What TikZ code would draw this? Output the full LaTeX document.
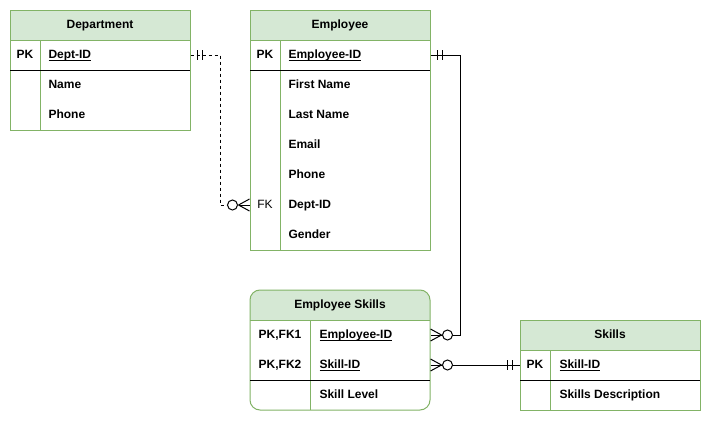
\documentclass[tikz,border=0pt]{standalone}
\usepackage{fontspec}
\setmainfont{Liberation Sans}
\usetikzlibrary{calc}
\definecolor{hdr}{HTML}{D5E8D4}
\definecolor{bdr}{HTML}{82B366}
\newcommand{\myul}[1]{\setbox0\hbox{#1}\rlap{\rule[-1.4pt]{\wd0}{0.6pt}}\box0}
\begin{document}
\begin{tikzpicture}[x=0.75pt,y=-0.75pt,
  font=\fontsize{9}{11}\selectfont\bfseries,
  line width=0.75pt,
  rowbox/.style={minimum width=135pt, minimum height=22.5pt, inner sep=0pt, draw=none},
  keytxt/.style={inner sep=0pt, anchor=center, text height=7.6pt, text depth=1.9pt},
  fieldtxt/.style={inner sep=0pt, anchor=west, text height=7.6pt, text depth=1.9pt},
  hdrtxt/.style={inner sep=0pt, anchor=center, text height=7.6pt, text depth=1.9pt},
  tbl/.style={draw=bdr, line width=0.75pt},
  sep/.style={draw=black, line width=0.75pt},
  rel/.style={draw=black, line width=0.75pt},
  reldash/.style={draw=black, line width=0.75pt, dash pattern=on 2.25pt off 2.25pt},
  ring/.style={draw=black, fill=white, line width=0.75pt}
]
\useasboundingbox (0,0) rectangle (711,421);
\fill[white] (0,0) rectangle (711,421);

% ---------- Department ----------
\fill[hdr] (10,10) rectangle (190,40);
\draw[tbl] (10,10) rectangle (190,130);
\draw[tbl] (10,40) -- (190,40);
\draw[tbl] (40,40) -- (40,130);
\draw[sep] (10,70) -- (190,70);
\node[hdrtxt] (dept-h) at (100,25) {Department};
\node[rowbox] (dept-pk) at (100,55) {};
\node[keytxt] at (25,55) {PK};
\node[fieldtxt] at (48,55) {\myul{Dept-ID}};
\node[fieldtxt] at (48,85) {Name};
\node[fieldtxt] at (48,115) {Phone};

% ---------- Employee ----------
\fill[hdr] (250,10) rectangle (430,40);
\draw[tbl] (250,10) rectangle (430,250);
\draw[tbl] (250,40) -- (430,40);
\draw[tbl] (280,40) -- (280,250);
\draw[sep] (250,70) -- (430,70);
\node[hdrtxt] (emp-h) at (340,25) {Employee};
\node[rowbox] (emp-pk) at (340,55) {};
\node[rowbox] (emp-fk) at (340,205) {};
\node[keytxt] at (265,55) {PK};
\node[fieldtxt] at (288,55) {\myul{Employee-ID}};
\node[fieldtxt] at (288,85) {First Name};
\node[fieldtxt] at (288,115) {Last Name};
\node[fieldtxt] at (288,145) {Email};
\node[fieldtxt] at (288,175) {Phone};
\node[keytxt,font=\fontsize{9}{11}\selectfont\mdseries] at (265,205) {FK};
\node[fieldtxt] at (288,205) {Dept-ID};
\node[fieldtxt] at (288,235) {Gender};

% ---------- Employee Skills ----------
\begin{scope}
\clip[rounded corners=7.5pt] (250,290) rectangle (430,410);
\fill[hdr] (250,290) rectangle (430,320);
\end{scope}
\draw[tbl, rounded corners=7.5pt] (250,290) rectangle (430,410);
\draw[tbl] (250,320) -- (430,320);
\draw[tbl] (310,320) -- (310,410);
\draw[sep] (250,380) -- (430,380);
\node[hdrtxt] (es-h) at (340,305) {Employee Skills};
\node[rowbox] (es-emp) at (340,335) {};
\node[rowbox] (es-skill) at (340,365) {};
\node[keytxt] at (280,335) {PK,FK1};
\node[keytxt] at (280,365) {PK,FK2};
\node[fieldtxt] at (319,335) {\myul{Employee-ID}};
\node[fieldtxt] at (319,365) {\myul{Skill-ID}};
\node[fieldtxt] at (319,395) {Skill Level};

% ---------- Skills ----------
\fill[hdr] (520,320) rectangle (700,350);
\draw[tbl] (520,320) rectangle (700,410);
\draw[tbl] (520,350) -- (700,350);
\draw[tbl] (550,350) -- (550,410);
\draw[sep] (520,380) -- (700,380);
\node[hdrtxt] (sk-h) at (610,335) {Skills};
\node[rowbox] (sk-pk) at (610,365) {};
\node[keytxt] at (535,365) {PK};
\node[fieldtxt] at (559,365) {\myul{Skill-ID}};
\node[fieldtxt] at (559,395) {Skills Description};

% ---------- Relationships ----------
% Department 1 -- 0..* Employee (dashed)
\draw[reldash] (dept-pk.east) -| ($(dept-pk.east)!.5!(emp-fk.west)$) |- (emp-fk.west);
\draw[rel] ($(dept-pk.east)+(7,-5)$) -- ++(0,10);
\draw[rel] ($(dept-pk.east)+(12,-5)$) -- ++(0,10);
\draw[rel] ($(emp-fk.west)+(-11,0)$) -- (emp-fk.west);
\draw[rel] ($(emp-fk.west)+(-11,0)$) -- ($(emp-fk.west)+(0,-6)$);
\draw[rel] ($(emp-fk.west)+(-11,0)$) -- ($(emp-fk.west)+(0,6)$);
\draw[ring] ($(emp-fk.west)+(-17,0)$) circle[radius=3.75pt];

% Employee 1 -- 0..* Employee Skills
\draw[rel] (emp-pk.east) -- ++(30,0) |- (es-emp.east);
\draw[rel] ($(emp-pk.east)+(7,-5)$) -- ++(0,10);
\draw[rel] ($(emp-pk.east)+(12,-5)$) -- ++(0,10);
\draw[rel] ($(es-emp.east)+(11,0)$) -- ($(es-emp.east)+(0,-6)$);
\draw[rel] ($(es-emp.east)+(11,0)$) -- ($(es-emp.east)+(0,6)$);
\draw[ring] ($(es-emp.east)+(17,0)$) circle[radius=3.75pt];

% Skills 1 -- 0..* Employee Skills
\draw[rel] (es-skill.east) -- (sk-pk.west);
\draw[rel] ($(es-skill.east)+(11,0)$) -- ($(es-skill.east)+(0,-6)$);
\draw[rel] ($(es-skill.east)+(11,0)$) -- ($(es-skill.east)+(0,6)$);
\draw[ring] ($(es-skill.east)+(17,0)$) circle[radius=3.75pt];
\draw[rel] ($(sk-pk.west)+(-12,-5)$) -- ++(0,10);
\draw[rel] ($(sk-pk.west)+(-7,-5)$) -- ++(0,10);
\end{tikzpicture}
\end{document}
